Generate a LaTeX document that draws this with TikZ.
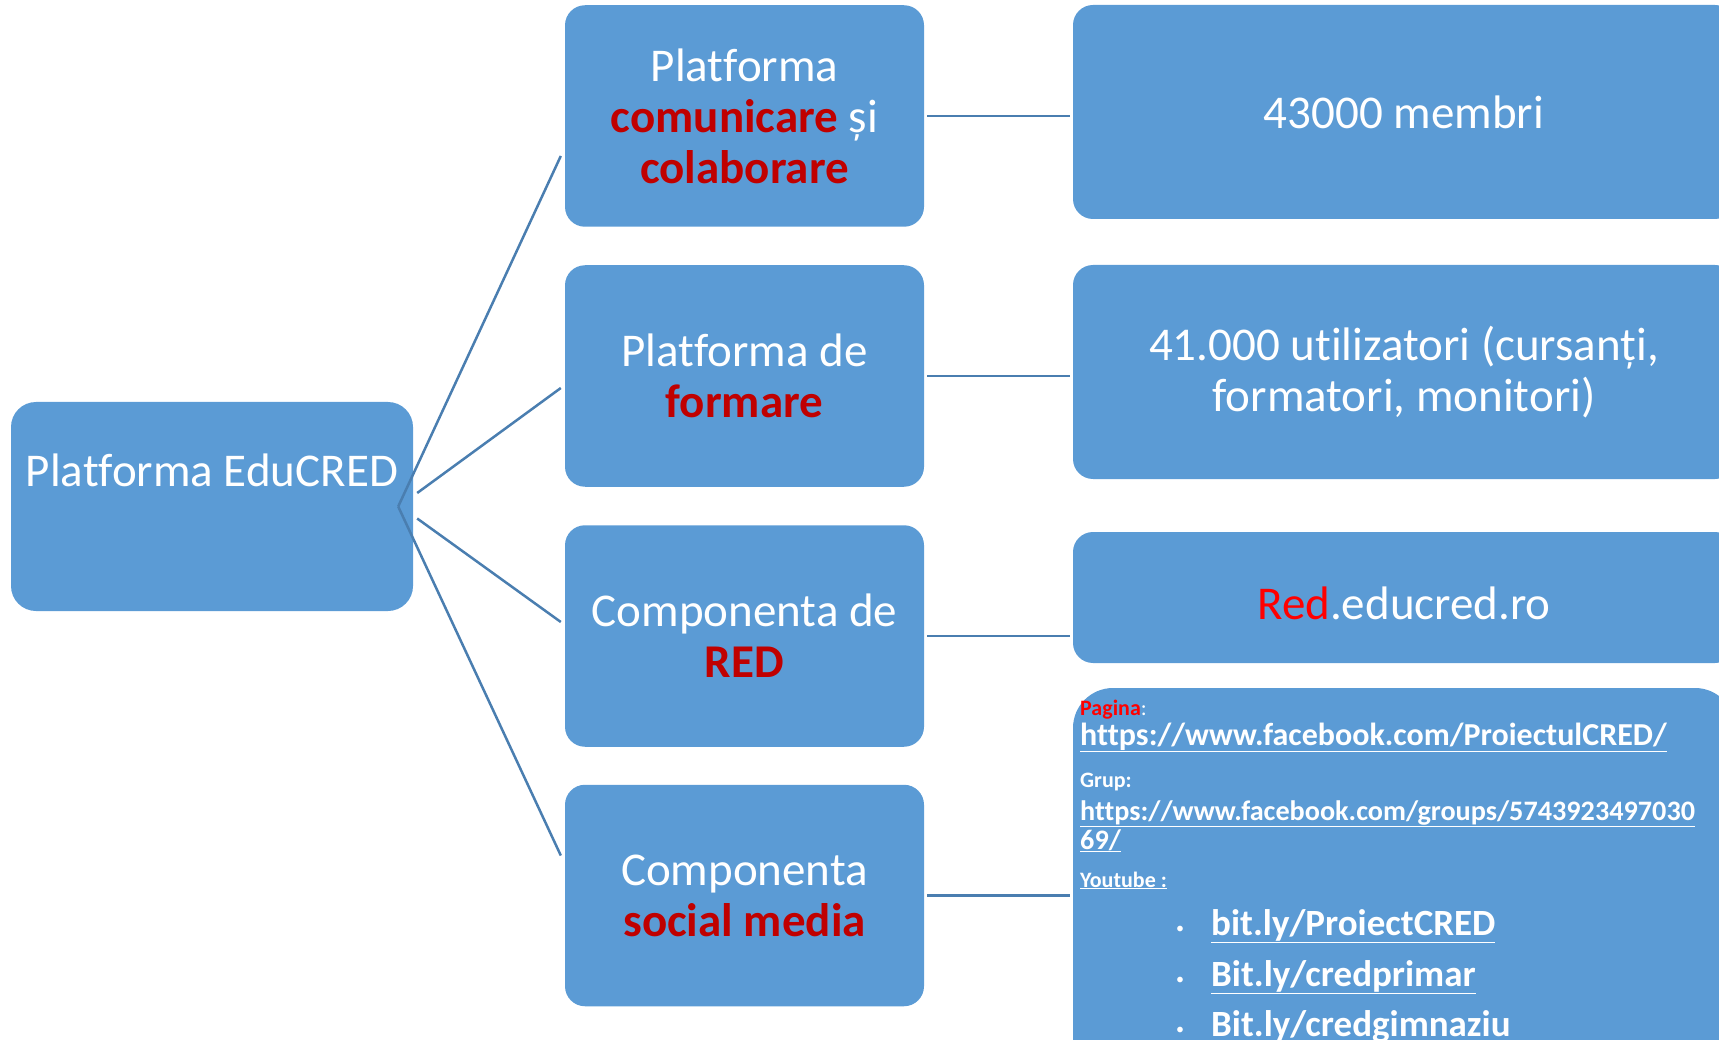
\documentclass[tikz,border=0pt]{standalone}
\usepackage{fontspec}
\setmainfont{Carlito}[Ligatures=NoCommon]
\usetikzlibrary{calc}
\definecolor{boxblue}{HTML}{5B9BD5}
\definecolor{linkblue}{HTML}{4A7EB0}
\definecolor{darkred}{HTML}{C00000}
\definecolor{brightred}{HTML}{FF0000}
\begin{document}
\begin{tikzpicture}[x=1pt,y=-1pt,
  box/.style={fill=boxblue, draw=none, rounded corners=20pt, text=white, align=center, inner sep=0pt},
  big/.style={font=\fontsize{47}{51}\selectfont},
  small/.style={font=\fontsize{22}{26}\selectfont\bfseries, text=white, anchor=base west, inner sep=0pt},
  url/.style={font=\fontsize{32}{36}\selectfont\bfseries, text=white, anchor=base west, inner sep=0pt},
  urlsm/.style={font=\fontsize{28.2}{32}\selectfont\bfseries, text=white, anchor=base west, inner sep=0pt},
  yt/.style={font=\fontsize{37}{42}\selectfont\bfseries, text=white, anchor=base west, inner sep=0pt},
  bul/.style={font=\fontsize{16}{20}\selectfont, text=white, anchor=base west, inner sep=0pt},
  conn/.style={draw=linkblue, line width=2.5pt}]
\useasboundingbox (0,0) rectangle (1719,1040);
\clip (0,0) rectangle (1719,1040);

% left box
\node[box, rounded corners=25pt, minimum width=402pt, minimum height=209pt] (root) at (212,506.5) {};
\node[big, text=white, anchor=base, inner sep=0pt] (roottext) at (212,486) {Platforma EduCRED};

% middle boxes
\node[box, big, minimum width=359pt, minimum height=221.5pt] (m1) at (744.5,116)
  {Platforma\\{\color{darkred}\bfseries comunicare} și\\{\color{darkred}\bfseries colaborare}};
\node[box, big, minimum width=359pt, minimum height=221.5pt] (m2) at (744.5,376)
  {Platforma de\\{\color{darkred}\bfseries formare}};
\node[box, big, minimum width=359pt, minimum height=221.5pt] (m3) at (744.5,636)
  {Componenta de\\{\color{darkred}\bfseries RED}};
\node[box, big, minimum width=359pt, minimum height=221.5pt] (m4) at (744.5,895.5)
  {Componenta\\{\color{darkred}\bfseries social media}};

% right boxes
\node[box, big, minimum width=662pt, minimum height=214pt] (r1) at (1404,112) {43000 membri};
\node[box, big, minimum width=662pt, minimum height=214pt] (r2) at (1404,372)
  {41.000 utilizatori (cursanți,\\formatori, monitori)};
\node[box, minimum width=662pt, minimum height=131pt] (r3) at (1404,597.5) {};
\node[big, text=white, anchor=base, inner sep=0pt] (r3text) at (1404,619)
  {{\color{brightred}Red}.educred.ro};
\node[box, rounded corners=40pt, minimum width=662pt, minimum height=412pt] (r4) at (1404,894) {};

% social media content
\node[small] (pag) at (1080,715) {{\color{brightred}Pagina}\mdseries:};
\node[url] (url1) at (1080,745) {\underline{https://www.facebook.com/ProiectulCRED/}};
\node[small] (grup) at (1080,787) {Grup:};
\node[urlsm] (url2) at (1080,820) {\underline{https://www.facebook.com/groups/5743923497030}};
\node[urlsm] (url2b) at (1080,849) {\underline{69/}};
\node[small] (yt) at (1080,887) {\underline{Youtube :}};
\node[bul] (b1) at (1176,933) {•};
\node[yt] (y1) at (1211,935) {\underline{bit.ly/ProiectCRED}};
\node[bul] (b2) at (1176,984) {•};
\node[yt] (y2) at (1211,986) {\underline{Bit.ly/credprimar}};
\node[bul] (b3) at (1176,1034) {•};
\node[yt] (y3) at (1211,1036) {\underline{Bit.ly/credgimnaziu}};

% connectors
\coordinate (fan) at ($(root.east)+(-15pt,0pt)$);
\draw[conn] (fan) -- ([xshift=-4pt,yshift=-40pt]m1.west);
\draw[conn] (fan) -- ([xshift=-4pt,yshift=40pt]m4.west);
\draw[conn] ([xshift=4pt,yshift=13.5pt]root.east) -- ([xshift=-4pt,yshift=-12pt]m2.west);
\draw[conn] ([xshift=4pt,yshift=-12pt]root.east) -- ([xshift=-4pt,yshift=14pt]m3.west);

\draw[conn] ([xshift=3pt]m1.east) -- ([xshift=-3pt]m1.east -| r1.west);
\draw[conn] ([xshift=3pt]m2.east) -- ([xshift=-3pt]m2.east -| r2.west);
\draw[conn] ([xshift=3pt]m3.east) -- ([xshift=-3pt]m3.east -| r3.west);
\draw[conn] ([xshift=3pt]m4.east) -- ([xshift=-3pt]m4.east -| r4.west);
\end{tikzpicture}
\end{document}
